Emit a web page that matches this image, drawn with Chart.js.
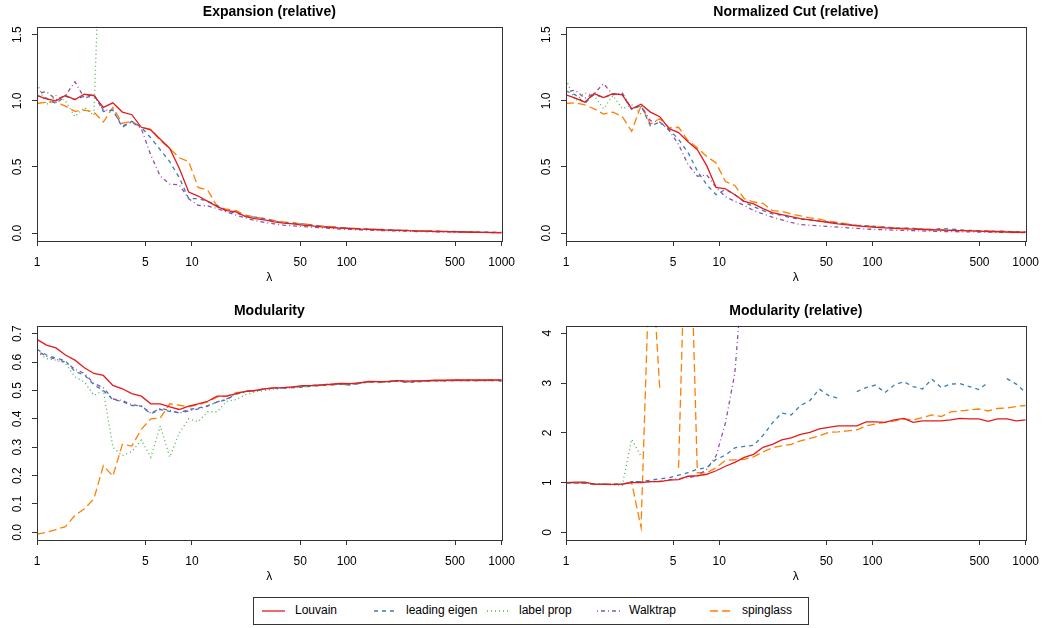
<!DOCTYPE html>
<html>
<head>
<meta charset="utf-8">
<script src="https://cdn.jsdelivr.net/npm/chart.js@4.4.0/dist/chart.umd.min.js"></script>
<style>
  html, body { margin: 0; padding: 0; background: #fff; }
  #page { position: relative; width: 1048px; height: 628px; overflow: hidden;
          font-family: "Liberation Sans", Arial, sans-serif; }
  canvas { position: absolute; }
  #legend { position: absolute; left: 253px; top: 597px; width: 556px; height: 28px;
            border: 1px solid #333; box-sizing: border-box; }
  .key { position: absolute; top: 609px; }
  .lab { position: absolute; top: 603px; font-size: 12px; line-height: 14px; color: #000; white-space: nowrap; }
</style>
</head>
<body>
<div id="page">
  <canvas id="c1" width="524" height="290" style="left:0;top:0"></canvas>
  <canvas id="c2" width="519" height="290" style="left:529px;top:0"></canvas>
  <canvas id="c3" width="524" height="290" style="left:0;top:299px"></canvas>
  <canvas id="c4" width="519" height="290" style="left:529px;top:299px"></canvas>
  <div id="legend"></div>
</div>
<script>
'use strict';
// lambda values (log-spaced, 1..1000)
const lambda = [1, 1.151, 1.326, 1.526, 1.758, 2.024, 2.330, 2.683, 3.089, 3.556,
  4.095, 4.715, 5.429, 6.251, 7.197, 8.286, 9.541, 10.98, 12.65, 14.56,
  16.77, 19.31, 22.23, 25.60, 29.47, 33.93, 39.07, 44.98, 51.79, 59.64,
  68.66, 79.06, 91.03, 104.8, 120.7, 138.9, 160.0, 184.2, 212.1, 244.2,
  281.2, 323.7, 372.8, 429.2, 494.2, 569.0, 655.1, 754.3, 868.5, 1000];
const xTicks = [1, 5, 10, 50, 100, 500, 1000];
const methods = ['Louvain', 'leading eigen', 'label prop', 'Walktrap', 'spinglass'];

// Expansion (relative)
const expLouvain = [1.04, 1.015, 1.0, 1.04, 1.01, 1.05, 1.04, 0.95, 0.985, 0.915,
  0.895, 0.80, 0.78, 0.71, 0.64, 0.49, 0.31, 0.28, 0.24, 0.20,
  0.17, 0.16, 0.125, 0.11, 0.10, 0.085, 0.075, 0.07, 0.06, 0.055,
  0.047, 0.042, 0.037, 0.033, 0.03, 0.028, 0.025, 0.022, 0.02, 0.018,
  0.015, 0.014, 0.012, 0.011, 0.01, 0.008, 0.006, 0.005, 0.003, 0.002];
const expEigen = [1.04, 1.02, 0.98, 1.035, 1.01, 1.035, 1.05, 0.92, 0.93, 0.80,
  0.845, 0.80, 0.72, 0.63, 0.54, 0.42, 0.26, 0.26, 0.24, 0.21,
  0.165, 0.15, 0.13, 0.12, 0.11, 0.09, 0.08, 0.075, 0.07, 0.06,
  0.05, 0.045, 0.04, 0.037, 0.033, 0.03, 0.028, 0.025, 0.022, 0.02,
  0.018, 0.016, 0.015, 0.013, 0.012, 0.01, 0.008, 0.007, 0.006, 0.006];
const expLabel = [1.13, 0.97, 1.04, 1.0, 0.88, 0.95, 0.89, 3.0];
const expWalk = [1.055, 1.07, 1.01, 1.04, 1.145, 1.02, 1.045, 0.93, 0.93, 0.81,
  0.84, 0.79, 0.59, 0.43, 0.37, 0.365, 0.26, 0.21, 0.205, 0.185,
  0.16, 0.135, 0.115, 0.095, 0.08, 0.07, 0.06, 0.055, 0.05, 0.045,
  0.04, 0.035, 0.03, 0.028, 0.025, 0.022, 0.02, 0.018, 0.016, 0.014,
  0.012, 0.011, 0.01, 0.009, 0.008, 0.007, 0.006, 0.005, 0.004, 0.003];
const expSpin = [0.98, 0.99, 0.99, 0.96, 0.92, 0.93, 0.915, 0.84, 0.95, 0.83,
  0.845, 0.80, 0.785, 0.70, 0.64, 0.57, 0.54, 0.345, 0.325, 0.20,
  0.18, 0.17, 0.135, 0.12, 0.11, 0.095, 0.085, 0.077, 0.07, 0.062,
  0.055, 0.048, 0.042, 0.038, 0.034, 0.03, 0.027, 0.025, 0.022, 0.02,
  0.018, 0.016, 0.014, 0.012, 0.011, 0.01, 0.008, 0.007, 0.005, 0.004];

// Normalized Cut (relative)
const ncutLouvain = [1.045, 1.02, 0.99, 1.055, 1.025, 1.055, 1.045, 0.94, 0.975, 0.915,
  0.88, 0.79, 0.76, 0.69, 0.63, 0.51, 0.345, 0.335, 0.29, 0.24,
  0.22, 0.185, 0.155, 0.14, 0.125, 0.11, 0.10, 0.09, 0.08, 0.07,
  0.062, 0.055, 0.048, 0.043, 0.04, 0.035, 0.032, 0.03, 0.027, 0.025,
  0.022, 0.02, 0.018, 0.016, 0.014, 0.012, 0.01, 0.008, 0.006, 0.005];
const ncutEigen = [1.075, 1.045, 0.98, 1.05, 1.025, 1.05, 1.05, 0.935, 0.965, 0.81,
  0.84, 0.78, 0.71, 0.61, 0.47, 0.365, 0.29, 0.33, 0.29, 0.235,
  0.2, 0.17, 0.145, 0.135, 0.115, 0.105, 0.1, 0.09, 0.085, 0.075,
  0.065, 0.058, 0.055, 0.05, 0.045, 0.04, 0.038, 0.035, 0.03, 0.025,
  0.035, 0.03, 0.025, 0.02, 0.018, 0.015, 0.015, 0.012, 0.01, 0.01];
const ncutLabel = [1.16, 1.0, 1.06, 1.04, 0.94, 1.04, 0.94, 0.97, 0.90];
const ncutWalk = [1.07, 1.08, 1.02, 1.055, 1.13, 1.045, 1.06, 0.94, 0.965, 0.85,
  0.84, 0.775, 0.67, 0.52, 0.43, 0.44, 0.345, 0.275, 0.24, 0.21,
  0.17, 0.145, 0.12, 0.10, 0.08, 0.065, 0.06, 0.055, 0.05, 0.045,
  0.04, 0.035, 0.03, 0.028, 0.025, 0.022, 0.02, 0.018, 0.016, 0.014,
  0.012, 0.011, 0.01, 0.009, 0.008, 0.007, 0.006, 0.005, 0.004, 0.003];
const ncutSpin = [0.98, 0.985, 0.97, 0.94, 0.90, 0.915, 0.88, 0.77, 0.965, 0.825,
  0.865, 0.795, 0.80, 0.70, 0.645, 0.58, 0.53, 0.39, 0.36, 0.26,
  0.235, 0.225, 0.17, 0.165, 0.145, 0.13, 0.115, 0.105, 0.09, 0.08,
  0.07, 0.06, 0.055, 0.05, 0.045, 0.04, 0.038, 0.035, 0.03, 0.027,
  0.025, 0.022, 0.02, 0.018, 0.016, 0.015, 0.014, 0.012, 0.01, 0.008];

// Modularity
const modLouvain = [0.68, 0.66, 0.65, 0.625, 0.607, 0.58, 0.56, 0.553, 0.518, 0.506,
  0.489, 0.48, 0.453, 0.453, 0.442, 0.433, 0.445, 0.453, 0.462, 0.48,
  0.48, 0.489, 0.497, 0.50, 0.506, 0.509, 0.51, 0.513, 0.517, 0.518,
  0.52, 0.522, 0.525, 0.524, 0.527, 0.532, 0.531, 0.532, 0.535, 0.533,
  0.534, 0.535, 0.536, 0.536, 0.537, 0.537, 0.537, 0.537, 0.537, 0.537];
const modEigen = [0.645, 0.625, 0.614, 0.605, 0.567, 0.555, 0.52, 0.50, 0.468, 0.461,
  0.447, 0.445, 0.418, 0.433, 0.426, 0.422, 0.433, 0.438, 0.447, 0.459,
  0.468, 0.488, 0.496, 0.5, 0.506, 0.508, 0.508, 0.51, 0.512, 0.515,
  0.518, 0.52, 0.522, 0.52, 0.525, 0.53, 0.53, 0.53, 0.533, 0.528,
  0.53, 0.533, 0.534, 0.534, 0.535, 0.535, 0.535, 0.535, 0.535, 0.533];
const modLabel = [0.636, 0.612, 0.607, 0.595, 0.548, 0.53, 0.483, 0.50, 0.30, 0.27,
  0.285, 0.325, 0.265, 0.375, 0.265, 0.35, 0.40, 0.39, 0.425, 0.425,
  0.462, 0.468, 0.485, 0.495, 0.50, 0.505, 0.508, 0.51, 0.512, 0.515,
  0.518, 0.52, 0.522, 0.52, 0.525, 0.53, 0.53, 0.53, 0.533, 0.53,
  0.53, 0.533, 0.534, 0.534, 0.535, 0.535, 0.535, 0.535, 0.535, 0.535];
const modWalk = [0.64, 0.62, 0.61, 0.60, 0.575, 0.56, 0.525, 0.51, 0.47, 0.465,
  0.45, 0.445, 0.42, 0.437, 0.43, 0.42, 0.428, 0.435, 0.445, 0.46,
  0.47, 0.487, 0.497, 0.5, 0.505, 0.508, 0.51, 0.512, 0.515, 0.517,
  0.52, 0.522, 0.524, 0.523, 0.527, 0.531, 0.531, 0.532, 0.534, 0.532,
  0.533, 0.534, 0.535, 0.535, 0.536, 0.536, 0.536, 0.536, 0.536, 0.535];
const modSpin = [-0.006, 0.0, 0.01, 0.02, 0.06, 0.083, 0.118, 0.235, 0.198, 0.31,
  0.304, 0.363, 0.40, 0.403, 0.453, 0.448, 0.442, 0.45, 0.46, 0.477,
  0.48, 0.492, 0.497, 0.5, 0.506, 0.509, 0.51, 0.512, 0.515, 0.517,
  0.518, 0.52, 0.522, 0.52, 0.525, 0.53, 0.528, 0.53, 0.535, 0.53,
  0.532, 0.533, 0.534, 0.535, 0.535, 0.535, 0.535, 0.535, 0.536, 0.536];

// Modularity (relative)
const relLouvain = [1.0, 1.01, 1.01, 0.97, 0.965, 0.965, 0.97, 1.0, 1.0, 1.02,
  1.02, 1.05, 1.06, 1.13, 1.14, 1.17, 1.24, 1.33, 1.41, 1.51,
  1.57, 1.71, 1.77, 1.86, 1.9, 1.97, 2.01, 2.08, 2.11, 2.14,
  2.14, 2.14, 2.22, 2.22, 2.21, 2.26, 2.29, 2.21, 2.24, 2.24,
  2.24, 2.26, 2.29, 2.28, 2.28, 2.23, 2.28, 2.28, 2.24, 2.26];
const relEigen = [0.99, 0.99, 0.99, 0.97, 0.97, 0.96, 0.97, 1.02, 1.02, 1.05,
  1.08, 1.1, 1.15, 1.2, 1.27, 1.3, 1.47, 1.55, 1.7, 1.73,
  1.75, 1.95, 2.2, 2.4, 2.36, 2.55, 2.65, 2.88, 2.75, 2.7,
  null, 2.83, 2.91, 2.96, 2.81, 2.96, 3.03, 2.93, 2.88, 3.08,
  2.91, 2.98, 2.99, 2.93, 2.87, 3.01, null, 3.09, 2.98, 2.81];
const relLabel = [0.99, 0.99, 0.99, 0.97, 0.97, 0.96, 0.95, 1.87, 1.53];
const relWalk = [1.0, 1.0, 1.0, 0.97, 0.97, 0.97, 0.97, 1.02, 1.02, 1.02,
  1.03, 1.06, 1.08, 1.1, 1.14, 1.27, 1.54, 2.2, 3.2, 5.6];
const relSpin = [1.0, 1.0, 0.99, 0.97, 0.97, 0.97, 0.97, 1.0, 0.1, 6.0,
  2.87, null, 1.3, 8.0, 1.2, 1.2, 1.3, 1.45, 1.46, 1.47,
  1.52, 1.62, 1.7, 1.74, 1.77, 1.84, 1.89, 1.94, 2.01, 2.02,
  2.04, 2.06, 2.14, 2.18, 2.21, 2.24, 2.28, 2.26, 2.31, 2.36,
  2.33, 2.42, 2.44, 2.46, 2.48, 2.44, 2.49, 2.5, 2.53, 2.55];

const colors = ['#E41A1C', '#377EB8', '#4DAF4A', '#984EA3', '#FF7F00'];
const dashes = [[], [4, 4], [1, 3], [1, 3, 4, 3], [8, 4]];

Chart.defaults.font.family = '"Liberation Sans", Arial, sans-serif';
Chart.defaults.color = '#000';

// plot box around the chart area, like R's box()
const frame = {
  id: 'frame',
  afterDraw(chart) {
    const a = chart.chartArea;
    const c = chart.ctx;
    c.save();
    c.strokeStyle = '#333';
    c.lineWidth = 1;
    c.strokeRect(Math.round(a.left) + 0.5, Math.round(a.top) + 0.5,
      Math.round(a.right - a.left), Math.round(a.bottom - a.top));
    c.restore();
  }
};

function panel(id, title, series, yMin, yMax, yTicks, digits, yPad, rightPad) {
  const datasets = series.map((s, k) => ({
    label: methods[k],
    data: lambda.map((x, i) => ({ x: x, y: s[i] === undefined ? null : s[i] })),
    borderColor: colors[k],
    borderDash: dashes[k],
    borderWidth: 1.3,
    pointRadius: 0,
    tension: 0,
    fill: false,
    spanGaps: false
  }));

  new Chart(document.getElementById(id), {
    type: 'line',
    data: { datasets: datasets },
    options: {
      responsive: false,
      animation: false,
      layout: { padding: { right: rightPad } },
      plugins: {
        legend: { display: false },
        tooltip: { enabled: false },
        title: {
          display: true, text: title, fullSize: false, color: '#000',
          font: { size: 14, weight: 'bold' }, padding: { top: 4, bottom: 6 }
        }
      },
      scales: {
        x: {
          type: 'logarithmic', min: 1, max: 1000,
          afterBuildTicks: (ax) => { ax.ticks = xTicks.map(v => ({ value: v })); },
          afterFit: (ax) => { ax.height = 49; },
          grid: { drawOnChartArea: false, tickLength: 5, tickColor: '#333' },
          border: { display: false },
          ticks: { autoSkip: false, minRotation: 0, maxRotation: 0, padding: 9,
                   font: { size: 12 }, callback: (v) => String(v) },
          title: { display: true, text: 'λ', font: { size: 12 }, padding: { top: 0, bottom: 5 } }
        },
        y: {
          min: yMin, max: yMax,
          afterBuildTicks: (ax) => { ax.ticks = yTicks.map(v => ({ value: v })); },
          afterFit: (ax) => { ax.width = 37; },
          grid: { drawOnChartArea: false, tickLength: 5, tickColor: '#333' },
          border: { display: false },
          ticks: { autoSkip: false, minRotation: 90, maxRotation: 90, crossAlign: 'center',
                   padding: yPad, font: { size: 12 }, callback: (v) => Number(v).toFixed(digits) }
        }
      }
    },
    plugins: [frame]
  });
}

const relTicks = [0, 0.5, 1, 1.5];
const modTicks = [0, 0.1, 0.2, 0.3, 0.4, 0.5, 0.6, 0.7];
const modRelTicks = [0, 1, 2, 3, 4];

panel('c1', 'Expansion (relative)', [expLouvain, expEigen, expLabel, expWalk, expSpin],
  -0.06, 1.56, relTicks, 1, 6, 21);
panel('c2', 'Normalized Cut (relative)', [ncutLouvain, ncutEigen, ncutLabel, ncutWalk, ncutSpin],
  -0.06, 1.56, relTicks, 1, 6, 16);
panel('c3', 'Modularity', [modLouvain, modEigen, modLabel, modWalk, modSpin],
  -0.027, 0.728, modTicks, 1, 6, 21);
panel('c4', 'Modularity (relative)', [relLouvain, relEigen, relLabel, relWalk, relSpin],
  -0.15, 4.15, modRelTicks, 0, 10, 16);

// legend below the panels
const keyX = [262, 374, 487, 597, 710];
const labX = [295, 406, 519, 629, 742];
const page = document.getElementById('page');
methods.forEach((m, k) => {
  const svg = document.createElementNS('http://www.w3.org/2000/svg', 'svg');
  svg.setAttribute('class', 'key');
  svg.setAttribute('width', '23');
  svg.setAttribute('height', '4');
  svg.style.left = keyX[k] + 'px';
  const ln = document.createElementNS('http://www.w3.org/2000/svg', 'line');
  ln.setAttribute('x1', '0'); ln.setAttribute('y1', '2');
  ln.setAttribute('x2', '23'); ln.setAttribute('y2', '2');
  ln.setAttribute('stroke', colors[k]);
  ln.setAttribute('stroke-width', '1.3');
  if (dashes[k].length) ln.setAttribute('stroke-dasharray', dashes[k].join(' '));
  svg.appendChild(ln);
  page.appendChild(svg);
  const t = document.createElement('span');
  t.className = 'lab';
  t.style.left = labX[k] + 'px';
  t.textContent = m;
  page.appendChild(t);
});
</script>
</body>
</html>
